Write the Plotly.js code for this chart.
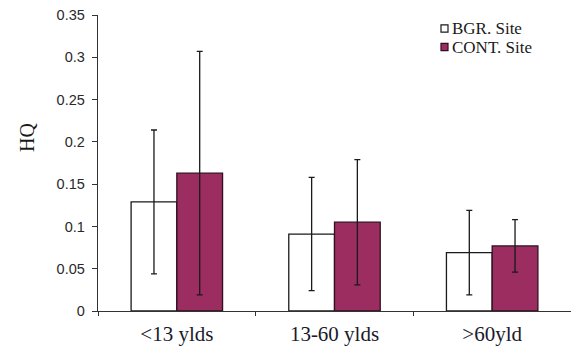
<!DOCTYPE html>
<html>
<head>
<meta charset="utf-8">
<script src="https://cdn.plot.ly/plotly-3.0.1.min.js"></script>
<style>
  html, body { margin: 0; padding: 0; background: #fff; }
  #chart { width: 571px; height: 347px; }
</style>
</head>
<body>
<div id="chart"></div>
<script>
// Age groups on the x axis
const ageGroups = ['<13 ylds', '13-60 ylds', '>60yld'];

// Mean hazard quotient per site
const bgrHQ  = [0.129, 0.091, 0.069];
const contHQ = [0.163, 0.105, 0.077];

// Error bar half-widths
const bgrErr  = [0.085, 0.067, 0.050];
const contErr = [0.144, 0.074, 0.031];

const seriesNames = ['BGR. Site', 'CONT. Site'];

const W = 571, H = 347;
const M = { l: 98, r: 0, t: 15, b: 36 };
const plotW = W - M.l - M.r, plotH = H - M.t - M.b;
// pixel position -> paper fraction
const px = v => (v - M.l) / plotW;
const py = v => (H - M.b - v) / plotH;

const serif = 'Liberation Serif';
const sans = 'Liberation Sans';
const ink = '#1a1a1a';
const fills = ['#ffffff', '#9b2d61'];
const edges = ['#1a1a1a', '#2e1020'];

const traces = [
  {
    type: 'bar',
    name: seriesNames[0],
    x: ageGroups,
    y: bgrHQ,
    marker: { color: fills[0], line: { color: edges[0], width: 1.3 } },
    error_y: { type: 'data', array: bgrErr, visible: true, color: ink, thickness: 1.3, width: 3 }
  },
  {
    type: 'bar',
    name: seriesNames[1],
    x: ageGroups,
    y: contHQ,
    marker: { color: fills[1], line: { color: edges[1], width: 1.3 } },
    error_y: { type: 'data', array: contErr, visible: true, color: ink, thickness: 1.3, width: 3 }
  }
];

// Compact key: small squares with labels, top right
const keyRows = [28.5, 47];
const keyShapes = seriesNames.map((n, i) => ({
  type: 'rect', xref: 'paper', yref: 'paper',
  x0: px(441), x1: px(448), y0: py(keyRows[i] - 3.7), y1: py(keyRows[i] + 3.7),
  fillcolor: fills[i], line: { color: edges[i], width: 1.2 }
}));
const keyLabels = seriesNames.map((n, i) => ({
  xref: 'paper', yref: 'paper', x: px(450), y: py(keyRows[i]),
  xanchor: 'left', yanchor: 'middle', showarrow: false, text: n,
  font: { family: serif, size: 17, color: ink }
}));

const layout = {
  width: W,
  height: H,
  margin: M,
  paper_bgcolor: '#ffffff',
  plot_bgcolor: '#ffffff',
  barmode: 'group',
  bargap: 0.42,
  bargroupgap: 0,
  showlegend: false,
  shapes: keyShapes,
  annotations: keyLabels.concat([{
    xref: 'paper', yref: 'paper', x: px(27), y: py(138),
    xanchor: 'center', yanchor: 'middle', showarrow: false, textangle: -90,
    text: 'HQ', font: { family: serif, size: 20, color: ink }
  }]),
  xaxis: {
    type: 'category',
    range: [-0.5, 2.5],
    showline: true, linecolor: '#333333', linewidth: 1.3,
    ticks: 'outside', tickson: 'boundaries', ticklen: 4, tickcolor: '#333333',
    ticklabelstandoff: 3,
    tickfont: { family: serif, size: 21, color: '#1a1a2a' },
    showgrid: false, zeroline: false, fixedrange: true
  },
  yaxis: {
    range: [0, 0.35],
    tickvals: [0, 0.05, 0.1, 0.15, 0.2, 0.25, 0.3, 0.35],
    ticktext: ['0', '0.05', '0.1', '0.15', '0.2', '0.25', '0.3', '0.35'],
    showline: true, linecolor: '#333333', linewidth: 1.3,
    ticks: 'outside', ticklen: 5, tickcolor: '#333333',
    ticklabelstandoff: 4,
    tickfont: { family: sans, size: 14.5, color: '#2a2a2a' },
    showgrid: false, zeroline: false
  }
};

Plotly.newPlot('chart', traces, layout, { displayModeBar: false, staticPlot: true });
</script>
</body>
</html>
